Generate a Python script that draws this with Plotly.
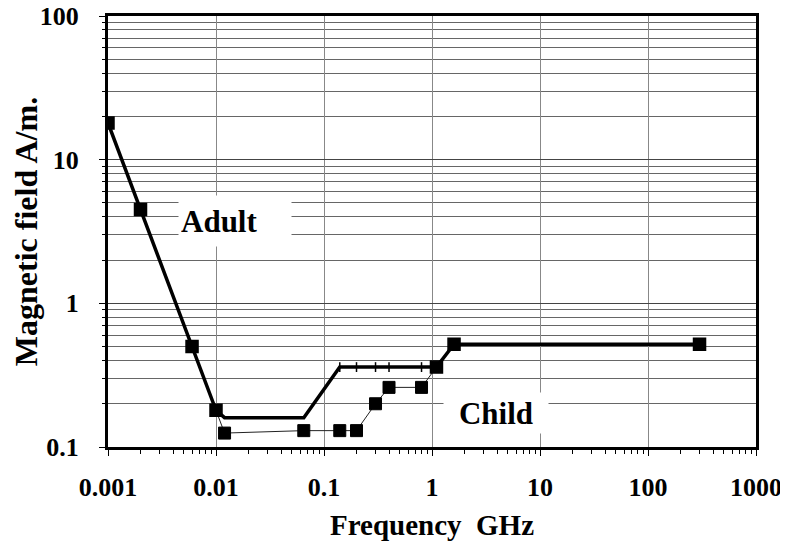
import plotly.graph_objects as go

# Data (frequency in GHz, magnetic field in A/m)
adult_freq = [0.001, 0.002, 0.006, 0.01, 0.012, 0.065, 0.14, 0.2, 0.3, 0.4, 0.8, 1.1, 1.6, 300]
adult_field = [18, 4.5, 0.5, 0.18, 0.16, 0.16, 0.36, 0.36, 0.36, 0.36, 0.36, 0.36, 0.52, 0.52]
adult_symbols = ["square", "square", "square", "square", "square", "square",
                 "line-ns", "line-ns", "line-ns", "line-ns", "line-ns", "square", "square", "square"]
adult_sizes = [12, 12, 12, 12, 0, 0, 7, 7, 7, 7, 7, 12, 12, 12]

child_freq = [0.01, 0.012, 0.065, 0.14, 0.2, 0.3, 0.4, 0.8, 1.1]
child_field = [0.18, 0.125, 0.13, 0.13, 0.13, 0.2, 0.26, 0.26, 0.36]
child_sizes = [0, 12, 12, 12, 12, 12, 12, 12, 0]

x_ticks = [0.001, 0.01, 0.1, 1, 10, 100, 1000]
x_ticktext = ["0.001", "0.01", "0.1", "1", "10", "100", "1000"]
y_ticks = [0.1, 1, 10, 100]
y_ticktext = ["0.1", "1", "10", "100"]

FONT = "Liberation Serif"

fig = go.Figure()
fig.add_trace(go.Scatter(
    x=child_freq, y=child_field, mode="lines+markers",
    line=dict(color="#222", width=1),
    marker=dict(symbol="square", size=child_sizes, color="#000", opacity=1,
                line=dict(color="#000", width=1)),
    name="Child", hoverinfo="x+y"))
fig.add_trace(go.Scatter(
    x=adult_freq, y=adult_field, mode="lines+markers",
    line=dict(color="black", width=3.5),
    marker=dict(symbol=adult_symbols, size=adult_sizes, color="#000", opacity=1,
                line=dict(color="#000", width=1.5)),
    name="Adult", hoverinfo="x+y"))

fig.add_annotation(x=-2.351, y=0.573, xref="x", yref="y", text="Adult",
                   showarrow=False, xanchor="left", yanchor="middle",
                   width=108, height=46, align="left", bgcolor="white", borderpad=2,
                   font=dict(family=FONT, size=31, color="black", weight=700))
fig.add_annotation(x=0.098, y=-0.763, xref="x", yref="y", text="Child",
                   showarrow=False, xanchor="left", yanchor="middle",
                   width=100, height=36, align="center", bgcolor="white", borderpad=2,
                   font=dict(family=FONT, size=31, color="black", weight=700))

# The page places the figure 8px from the top-left corner of the window.
fig.update_layout(
    width=780, height=533,
    margin=dict(l=100, r=32, t=8, b=94, autoexpand=False),
    plot_bgcolor="white", paper_bgcolor="white",
    showlegend=False,
    font=dict(family=FONT, color="black"),
)
fig.update_xaxes(
    type="log", range=[-3, 3], automargin=False,
    tickmode="array", tickvals=x_ticks, ticktext=x_ticktext,
    tickfont=dict(family=FONT, size=26, color="black", weight=700),
    ticks="outside", ticklen=6, tickwidth=1, tickcolor="black",
    ticklabelstandoff=9, ticklabeloverflow="allow",
    showgrid=True, gridcolor="#888", gridwidth=1,
    minor=dict(ticks="outside", ticklen=4, tickcolor="black", showgrid=False, dtick="D1"),
    showline=True, linecolor="black", linewidth=3, mirror=True,
    title=dict(text="Frequency\u00a0\u00a0GHz", standoff=14,
               font=dict(family=FONT, size=29, color="black", weight=700)),
    zeroline=False,
)
fig.update_yaxes(
    type="log", range=[-1, 2], automargin=False,
    tickmode="array", tickvals=y_ticks, ticktext=y_ticktext,
    tickfont=dict(family=FONT, size=26, color="black", weight=700),
    ticks="outside", ticklen=6, tickwidth=1, tickcolor="black",
    ticklabelstandoff=15, ticklabeloverflow="allow",
    showgrid=True, gridcolor="#444", gridwidth=1,
    minor=dict(ticks="outside", ticklen=3, tickcolor="black", showgrid=True,
               gridcolor="#666", gridwidth=1, dtick="D1"),
    showline=True, linecolor="black", linewidth=3, mirror=True,
    title=dict(text="Magnetic field A/m.", standoff=9,
               font=dict(family=FONT, size=32, color="black", weight=700)),
    zeroline=False,
)

fig.write_html("out.html")
